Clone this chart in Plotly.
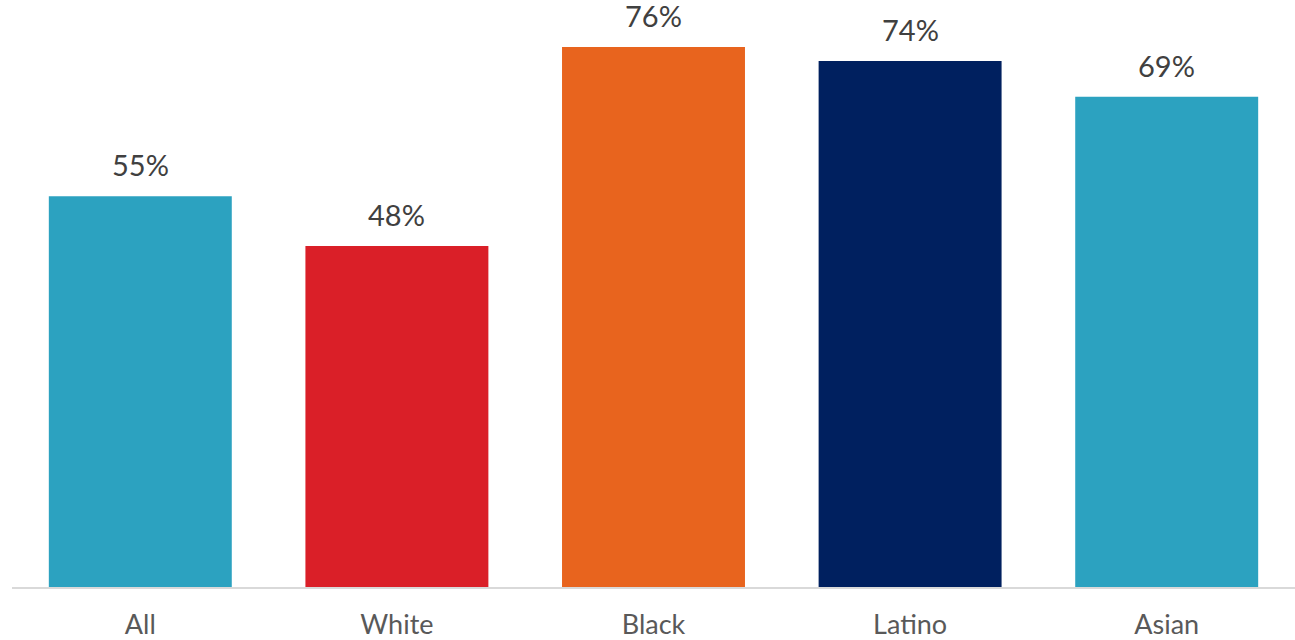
import plotly.graph_objects as go

categories = ["All", "White", "Black", "Latino", "Asian"]
values = [55, 48, 76, 74, 69]
labels = ["55%", "48%", "76%", "74%", "69%"]
colors = ["#2CA2C0", "#DA1F28", "#E8641E", "#00205F", "#2CA2C0"]

fig = go.Figure()
fig.add_trace(go.Bar(
    x=categories, y=values, marker_color=colors, marker_line_width=0,
    hoverinfo="skip", showlegend=False,
))
for c, v, t in zip(categories, values, labels):
    fig.add_annotation(x=c, y=v, text=t, showarrow=False, yanchor="bottom",
                       yshift=12, font=dict(family="Lato", size=29, color="#404040"))

fig.update_layout(
    width=1295, height=640,
    margin=dict(l=12, r=0, t=0, b=47),
    paper_bgcolor="white", plot_bgcolor="white",
    bargap=0.287,
    xaxis=dict(showline=True, linecolor="#D9D9D9", linewidth=2, ticks="",
               tickfont=dict(family="Lato", size=27, color="#595959"),
               ticklabelstandoff=13),
    yaxis=dict(range=[0, 82.6], visible=False, showgrid=False, zeroline=False),
)
fig.write_html(
    "out.html",
    config={"displayModeBar": False},
    post_script="document.body.style.margin='0px';document.body.style.overflow='hidden';",
)
